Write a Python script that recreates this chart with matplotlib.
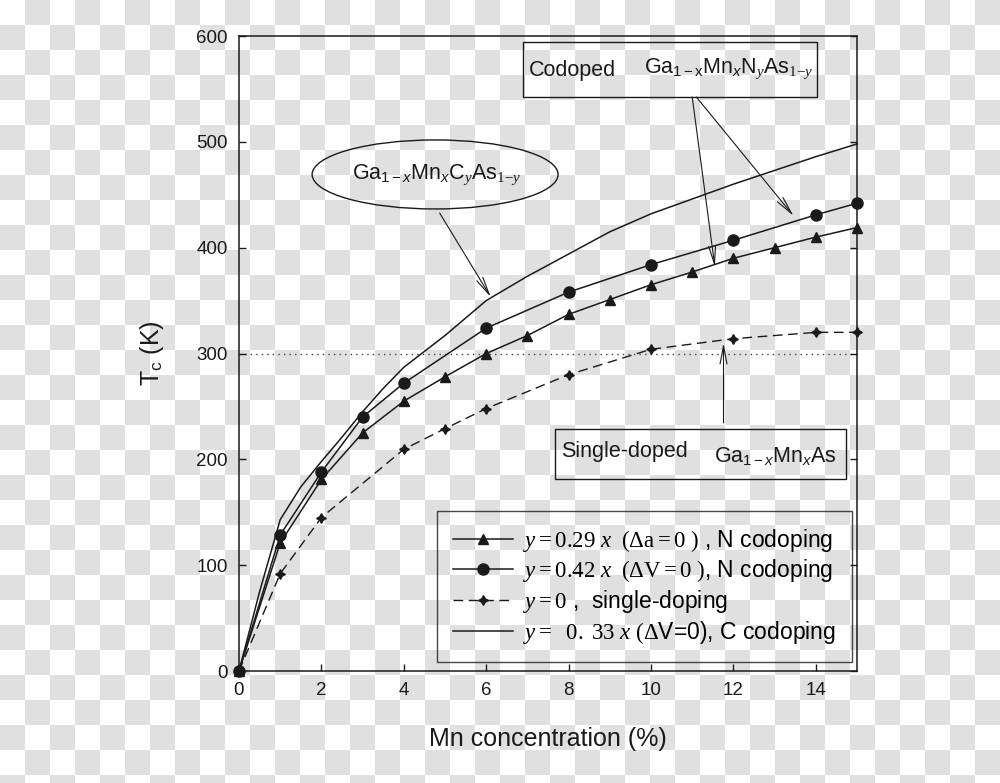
import numpy as np
import matplotlib
matplotlib.use("Agg")
import matplotlib.pyplot as plt
from matplotlib.patches import Ellipse, Rectangle

plt.rcParams['font.family'] = ['Liberation Sans', 'DejaVu Sans']
plt.rcParams['mathtext.fontset'] = 'custom'
plt.rcParams['mathtext.rm'] = 'Liberation Serif'
plt.rcParams['mathtext.it'] = 'Liberation Serif:italic'
plt.rcParams['mathtext.sf'] = 'Liberation Sans'
plt.rcParams['mathtext.bf'] = 'Liberation Sans:italic'   # used for sans italic subscripts

# ---- Data ----
x_tri = [0, 1, 2, 3, 4, 5, 6, 7, 8, 9, 10, 11, 12, 13, 14, 15]
tc_tri = [0, 121, 181, 225, 255, 278, 300, 317, 337, 351, 365, 377, 390, 400, 410, 419]

x_circ = [0, 1, 2, 3, 4, 6, 8, 10, 12, 14, 15]
tc_circ = [0, 128.5, 188, 240, 272, 324, 358, 384, 407, 431, 442]

x_single = [0, 1, 2, 4, 5, 6, 8, 10, 12, 14, 15]
tc_single = [0, 92, 145, 209.5, 229, 248, 280, 304, 314, 320, 320]

x_carbon = [0, 0.5, 1, 1.5, 2, 2.5, 3, 3.5, 4, 5, 6, 7, 8, 9, 10, 11, 12, 13, 14, 15]
tc_carbon = [0, 75, 143, 174, 198, 221, 245, 267, 287, 317, 350, 373, 394, 415, 432, 446, 460, 473, 486, 498]

labels = [r"$y = 0.29\ x\ \ (\Delta\mathrm{a} = 0\ )$ , N codoping",
          r"$y = 0.42\ x\ \ (\Delta\mathrm{V} = 0\ )$, N codoping",
          r"$y = 0$ ,  single-doping",
          r"$y =\ \ 0.\ 33\ x\ (\Delta$V=0), C codoping"]

ink = '#1a1a1a'

fig = plt.figure(figsize=(10, 7.83), dpi=100)

# checkerboard background
bg = fig.add_axes([0, 0, 1, 1], zorder=-10)
ii, jj = np.indices((32, 40))
board = np.where((ii + jj) % 2 == 1, 0.878, 1.0)
bg.imshow(board, cmap='gray', vmin=0, vmax=1, extent=(0, 1000, 800, 0),
          interpolation='nearest', aspect='auto')
bg.set_xlim(0, 1000)
bg.set_ylim(783, 0)
bg.axis('off')

ax = fig.add_axes([0.239, 0.143, 0.618, 0.811])
ax.set_facecolor('none')

ax.axhline(300, color='#444444', ls=(0, (1, 3)), lw=1.0, zorder=1)

ax.plot(x_tri, tc_tri, color=ink, lw=1.1, marker='^', ms=7, label=labels[0], clip_on=False)
ax.plot(x_circ, tc_circ, color=ink, lw=1.1, marker='o', ms=8, label=labels[1], clip_on=False)
ax.plot(x_single, tc_single, color=ink, lw=1.0, dashes=(7, 4), marker=(4, 1, 0), ms=7,
        label=labels[2], clip_on=False)
ax.plot(x_carbon, tc_carbon, color=ink, lw=1.1, label=labels[3], clip_on=False)

ax.set_xlim(0, 15)
ax.set_ylim(0, 600)
ax.set_xticks([0, 2, 4, 6, 8, 10, 12, 14])
ax.set_yticks([0, 100, 200, 300, 400, 500, 600])
ax.tick_params(direction='in', length=5, width=1, labelsize=13.5, colors=ink,
               right=True, pad=8)
for s in ax.spines.values():
    s.set_linewidth(1.1)
    s.set_color(ink)

ax.set_xlabel('Mn concentration (%)', fontsize=18, color=ink, labelpad=20)
ax.set_ylabel(r'T$_{\mathsf{c}}$ (K)', fontsize=18, color=ink, labelpad=22)

leg = ax.legend(loc='lower right', bbox_to_anchor=(0.992, 0.0137), borderaxespad=0,
                fontsize=16.5, frameon=True, fancybox=False, handlelength=2.6,
                labelspacing=0.17, handletextpad=0.45, borderpad=0.7)
leg.get_frame().set_edgecolor(ink)
leg.get_frame().set_facecolor('none')
leg.get_frame().set_linewidth(1.0)

arrow = dict(arrowstyle='->,head_length=1.3,head_width=0.25', lw=0.8, color=ink,
             shrinkA=0, shrinkB=0)

# C codoped label in ellipse
ax.add_patch(Ellipse((4.76, 469.2), 5.97, 65.2, fill=False, lw=1.0, ec=ink, clip_on=False))
ax.text(4.8, 469, r'Ga$_{\mathsf{1-}\mathbf{x}}$Mn$_{\mathbf{x}}$C$_{y}$As$_{1\mathrm{-}y}$',
        fontsize=15.5, ha='center', va='center', color=ink)
ax.annotate('', xy=(6.11, 353.4), xytext=(4.87, 432.8), arrowprops=arrow)

# N codoped box
ax.add_patch(Rectangle((6.90, 542.7), 7.14, 51.9, fill=False, lw=1.0, ec=ink, clip_on=False))
ax.text(7.03, 567, 'Codoped', fontsize=15.5, ha='left', va='center', color=ink)
ax.text(9.84, 569, r'Ga$_{\mathsf{1-x}}$Mn$_{\mathbf{x}}$N$_{y}$As$_{1\mathrm{-}y}$',
        fontsize=15.5, ha='left', va='center', color=ink)
ax.annotate('', xy=(11.55, 382), xytext=(11.0, 542.4), arrowprops=arrow)
ax.annotate('', xy=(13.46, 430), xytext=(11.1, 542.4), arrowprops=arrow)

# single doped box
ax.add_patch(Rectangle((7.67, 181.1), 7.07, 47.6, fill=False, lw=1.0, ec=ink, clip_on=False))
ax.text(7.82, 207, 'Single-doped', fontsize=15.5, ha='left', va='center', color=ink)
ax.text(11.54, 203, r'Ga$_{\mathsf{1-}\mathbf{x}}$Mn$_{\mathbf{x}}$As',
        fontsize=15.5, ha='left', va='center', color=ink)
ax.annotate('', xy=(11.76, 310), xytext=(11.76, 234.3), arrowprops=arrow)

fig.savefig('out.png', dpi=100)
